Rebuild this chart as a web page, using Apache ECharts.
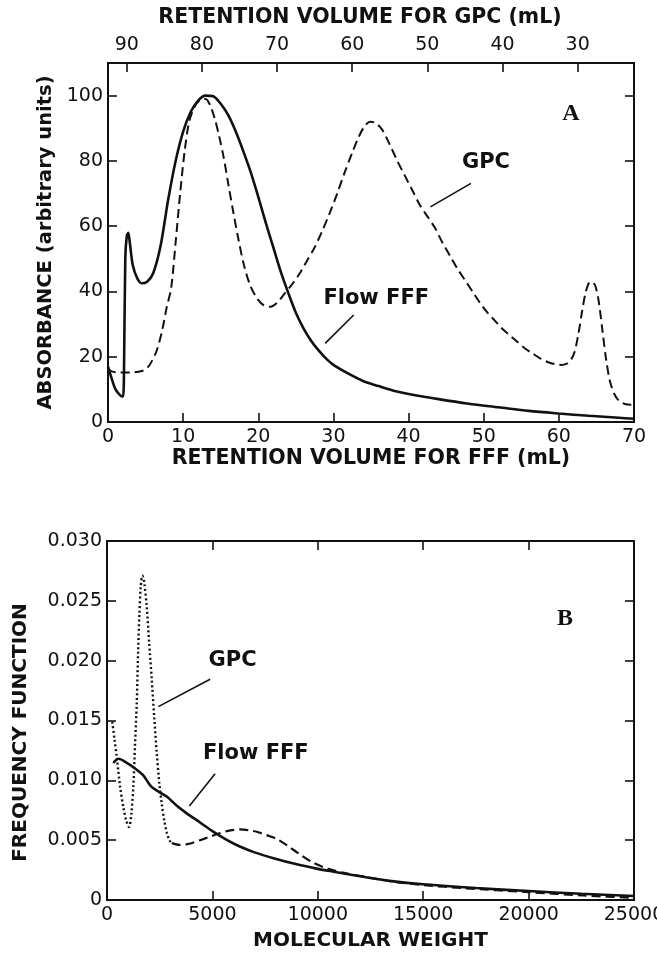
<!DOCTYPE html>
<html>
<head>
<meta charset="utf-8">
<title>Flow FFF vs GPC</title>
<script src="https://cdn.jsdelivr.net/npm/echarts@6/dist/echarts.min.js"></script>
<style>
  html, body { margin: 0; padding: 0; background: #fff; }
  #chart { width: 657px; height: 956px; }
</style>
</head>
<body>
<div id="chart"></div>
<script>
// ---- Panel A: absorbance vs retention volume (FFF axis bottom, GPC axis top) ----
const fffVolumeTicks = [0, 10, 20, 30, 40, 50, 60, 70];
const gpcVolumeTicks = [30, 40, 50, 60, 70, 80, 90];
const absorbanceTicks = [0, 20, 40, 60, 80, 100];

// Flow FFF fractogram: [FFF retention volume (mL), absorbance]
const fffTrace = [
  [0, 17], [0.4, 14], [1.0, 10], [1.7, 8], [2.0, 7.8], [2.15, 20], [2.3, 50], [2.5, 57],
  [2.7, 58], [2.9, 55], [3.3, 48], [3.9, 44], [4.5, 42.5], [5.2, 43], [6.0, 45.5], [7.0, 54],
  [8.0, 68], [9.0, 80], [10.0, 89], [11.0, 95], [12.0, 98.5], [13.0, 100], [14.0, 99.8],
  [15.0, 97.5], [16.0, 94], [17.0, 89], [18.0, 83], [19.0, 76.5], [20.0, 69], [21.0, 61],
  [22.0, 53.5], [23.0, 46], [24.0, 39.5], [25.0, 33.5], [26.0, 28.8], [27.0, 25], [28.0, 22],
  [29.0, 19.5], [30.0, 17.5], [32.0, 14.8], [34.0, 12.5], [36.0, 11], [38.0, 9.6], [40.0, 8.6],
  [44.0, 7], [48.0, 5.6], [52.0, 4.5], [56.0, 3.4], [60.0, 2.6], [64.0, 1.9], [68.0, 1.3], [70.0, 1.0]
];

// GPC chromatogram on the same volume scale: [FFF-scale volume (mL), absorbance]
const gpcTrace = [
  [0, 16.5], [0.5, 15.5], [1.5, 15.2], [3, 15.2], [4.5, 15.6], [5.2, 16.5], [5.8, 18.5],
  [6.5, 22], [7.2, 28], [7.8, 35], [8.4, 41], [9.0, 55], [9.6, 70], [10.2, 83], [10.8, 92],
  [11.5, 96.5], [12.3, 98.8], [13.0, 99], [13.6, 97], [14.2, 93], [14.8, 87.5], [15.4, 81],
  [16.0, 73], [16.7, 64], [17.4, 55.5], [18.1, 48], [18.9, 42], [19.8, 38], [20.7, 35.8],
  [21.6, 35.3], [22.5, 36.5], [23.5, 39.3], [24.5, 42.2], [25.5, 45.5], [26.5, 49.5],
  [27.5, 53.5], [28.5, 58.5], [29.5, 64], [30.5, 70], [31.5, 76.5], [32.5, 82.5], [33.3, 87],
  [34.1, 90.5], [34.9, 92], [35.7, 91.5], [36.5, 89.5], [37.5, 85], [38.5, 80], [39.5, 75.5],
  [40.5, 71], [41.5, 66.5], [42.5, 63], [43.5, 59.5], [44.5, 55], [45.5, 51], [46.5, 47],
  [47.5, 43.5], [48.5, 40], [49.5, 36.5], [50.5, 33.5], [51.5, 31], [52.5, 28.5], [53.5, 26.5],
  [54.5, 24.5], [55.5, 22.5], [56.5, 21], [57.5, 19.5], [58.5, 18.4], [59.5, 17.7], [60.3, 17.5],
  [61.0, 17.8], [61.6, 19], [62.1, 21.5], [62.6, 27], [63.1, 34], [63.6, 40], [64.2, 43],
  [64.8, 42], [65.3, 37], [65.8, 28], [66.3, 19], [66.8, 12.5], [67.4, 8.5], [68.0, 6.5],
  [68.8, 5.5], [69.5, 5.3], [70, 6]
];

// ---- Panel B: frequency function vs molecular weight ----
const mwTicks = [0, 5000, 10000, 15000, 20000, 25000];
const freqTicks = [0, 0.005, 0.010, 0.015, 0.020, 0.025, 0.030];

const fffDistribution = [
  [300, 0.01145], [550, 0.0118], [900, 0.0115], [1250, 0.0111], [1700, 0.01045], [2000, 0.0097],
  [2150, 0.0094], [2500, 0.0090], [2850, 0.00862], [3300, 0.0079], [3800, 0.00722], [4400, 0.0065],
  [5000, 0.00575], [5700, 0.0050], [6300, 0.00447], [7000, 0.00398], [7900, 0.00349], [9000, 0.00298],
  [10000, 0.0026], [10700, 0.00238], [12300, 0.0019], [13500, 0.00158], [15000, 0.00131],
  [17500, 0.001], [20000, 0.00075], [22500, 0.00052], [25000, 0.00033]
];

// GPC distribution, low-MW part (dotted)
const gpcDistributionLow = [
  [250, 0.0149], [350, 0.0135], [460, 0.012], [620, 0.0095], [780, 0.0077], [920, 0.0066],
  [1045, 0.0061], [1150, 0.0071], [1250, 0.0095], [1330, 0.013], [1410, 0.0164], [1480, 0.021],
  [1535, 0.0238], [1600, 0.0262], [1680, 0.0271], [1760, 0.0266], [1885, 0.0245], [2000, 0.0215],
  [2120, 0.0185], [2240, 0.0153], [2360, 0.0123], [2480, 0.0098], [2600, 0.008], [2720, 0.0066],
  [2840, 0.0056], [2960, 0.0050], [3070, 0.00475]
];

// GPC distribution, high-MW part (dashed)
const gpcDistributionHigh = [
  [3070, 0.00475], [3466, 0.0046], [3900, 0.0047], [4416, 0.005], [4900, 0.0053], [5366, 0.0056],
  [5850, 0.00582], [6316, 0.0059], [6800, 0.0058], [7108, 0.0057], [7600, 0.0054], [8058, 0.0051],
  [8600, 0.0045], [9164, 0.0038], [9800, 0.0031], [10500, 0.0026], [11300, 0.00225], [12330, 0.0019],
  [13500, 0.00155], [15000, 0.00125], [17000, 0.00098], [20000, 0.00066], [22600, 0.00038],
  [25000, 0.00018]
];

// Curve annotations (data coordinates) and their leader lines
const panelALabels = [
  { text: 'GPC', at: [50.3, 79.6] },
  { text: 'Flow FFF', at: [35.7, 37.7] }
];
const panelALeaders = [
  [[48.3, 73.1], [42.9, 65.9]],
  [[32.7, 32.8], [28.9, 24.1]]
];
const panelBLabels = [
  { text: 'GPC', at: [5959, 0.0200] },
  { text: 'Flow FFF', at: [7061, 0.0122] }
];
const panelBLeaders = [
  [[4891, 0.01845], [2436, 0.01616]],
  [[5128, 0.01054], [3908, 0.00786]]
];
const panelTags = [
  { text: 'A', at: [61.6, 94.3] },
  { text: 'B', at: [21724, 0.02354] }
];

const INK = '#111';
const tickFont = { color: INK, fontFamily: 'DejaVu Sans', fontSize: 19 };
const titleFont = { color: INK, fontFamily: 'DejaVu Sans', fontWeight: 'bold', fontSize: 20 };
const noteFont = { color: INK, fontFamily: 'DejaVu Sans', fontWeight: 'bold', fontSize: 21 };
const tagFont = { color: INK, fontFamily: 'Liberation Serif', fontWeight: 'bold', fontSize: 24 };

function innerTicks(values) {
  return { show: true, inside: true, length: 9, lineStyle: { color: INK, width: 1.6 }, customValues: values };
}

const hiddenLine = { show: false, onZero: false };

function labelPoints(list, font) {
  return {
    symbol: 'rect', symbolSize: [1, 1], silent: true, animation: false,
    itemStyle: { color: 'rgba(0,0,0,0)' },
    label: Object.assign({ show: true, position: 'inside', formatter: p => p.name }, font),
    data: list.map(d => ({ name: d.text, coord: d.at }))
  };
}

function leaderLines(list) {
  return {
    symbol: 'none', silent: true, animation: false,
    label: { show: false },
    lineStyle: { color: INK, width: 1.6, type: 'solid' },
    data: list.map(seg => [{ coord: seg[0] }, { coord: seg[1] }])
  };
}

const option = {
  animation: false,
  backgroundColor: '#fff',
  grid: [
    { left: 108, right: 23, top: 63, height: 359, show: true, borderColor: INK, borderWidth: 2,
      backgroundColor: 'transparent', outerBoundsMode: 'none', containLabel: false },
    { left: 107, right: 23, top: 541, height: 359, show: true, borderColor: INK, borderWidth: 2,
      backgroundColor: 'transparent', outerBoundsMode: 'none', containLabel: false }
  ],
  xAxis: [
    {
      gridIndex: 0, type: 'value', position: 'bottom', min: 0, max: 70, interval: 10,
      axisLine: hiddenLine, splitLine: { show: false },
      axisTick: innerTicks(fffVolumeTicks),
      axisLabel: Object.assign({ margin: 6, customValues: fffVolumeTicks }, tickFont),
      name: 'RETENTION VOLUME FOR FFF (mL)', nameLocation: 'middle', nameGap: 23,
      nameTextStyle: Object.assign({}, titleFont, { fontSize: 20.5 })
    },
    {
      gridIndex: 0, type: 'value', position: 'top', inverse: true, min: 22.5, max: 92.5,
      axisLine: hiddenLine, splitLine: { show: false },
      axisTick: innerTicks(gpcVolumeTicks),
      axisLabel: Object.assign({ margin: 8, customValues: gpcVolumeTicks }, tickFont),
      name: 'RETENTION VOLUME FOR GPC (mL)', nameLocation: 'middle', nameGap: 35,
      nameTextStyle: Object.assign({}, titleFont, { fontSize: 20.5, padding: [0, 22, 0, 0] })
    },
    {
      gridIndex: 1, type: 'value', position: 'bottom', min: 0, max: 25000, interval: 5000,
      axisLine: hiddenLine, splitLine: { show: false },
      axisTick: innerTicks(mwTicks),
      axisLabel: Object.assign({ margin: 6, customValues: mwTicks, formatter: v => String(v) }, tickFont),
      name: 'MOLECULAR WEIGHT', nameLocation: 'middle', nameGap: 31,
      nameTextStyle: titleFont
    },
    {
      gridIndex: 1, type: 'value', position: 'top', min: 0, max: 25000, interval: 5000,
      axisLine: hiddenLine, splitLine: { show: false },
      axisTick: innerTicks(mwTicks.slice(1, -1)),
      axisLabel: { show: false }
    }
  ],
  yAxis: [
    {
      gridIndex: 0, type: 'value', position: 'left', min: 0, max: 110, interval: 20,
      axisLine: hiddenLine, splitLine: { show: false },
      axisTick: innerTicks(absorbanceTicks),
      axisLabel: Object.assign({ margin: 5, customValues: absorbanceTicks }, tickFont),
      name: 'ABSORBANCE (arbitrary units)', nameLocation: 'middle', nameGap: 44,
      nameTextStyle: Object.assign({}, titleFont, { fontSize: 19.5 })
    },
    {
      gridIndex: 0, type: 'value', position: 'right', min: 0, max: 110, interval: 20,
      axisLine: hiddenLine, splitLine: { show: false },
      axisTick: innerTicks(absorbanceTicks.slice(1)),
      axisLabel: { show: false }
    },
    {
      gridIndex: 1, type: 'value', position: 'left', min: 0, max: 0.030, interval: 0.005,
      axisLine: hiddenLine, splitLine: { show: false },
      axisTick: innerTicks(freqTicks.slice(0, -1)),
      axisLabel: Object.assign({
        margin: 5, customValues: freqTicks,
        formatter: v => (v === 0 ? '0' : v.toFixed(3))
      }, tickFont),
      name: 'FREQUENCY FUNCTION', nameLocation: 'middle', nameGap: 76,
      nameTextStyle: Object.assign({}, titleFont, { padding: [0, 24, 0, 0] })
    },
    {
      gridIndex: 1, type: 'value', position: 'right', min: 0, max: 0.030, interval: 0.005,
      axisLine: hiddenLine, splitLine: { show: false },
      axisTick: innerTicks(freqTicks.slice(1, -1)),
      axisLabel: { show: false }
    }
  ],
  series: [
    {
      name: 'Flow FFF', type: 'line', xAxisIndex: 0, yAxisIndex: 0, data: fffTrace,
      showSymbol: false, smooth: 0.3, lineStyle: { color: INK, width: 2.6 },
      markLine: leaderLines(panelALeaders),
      markPoint: labelPoints(panelALabels, noteFont)
    },
    {
      name: 'GPC', type: 'line', xAxisIndex: 0, yAxisIndex: 0, data: gpcTrace,
      showSymbol: false, smooth: 0.3, lineStyle: { color: INK, width: 2, type: [9, 5] },
      markPoint: labelPoints([panelTags[0]], tagFont)
    },
    {
      name: 'Flow FFF', type: 'line', xAxisIndex: 2, yAxisIndex: 2, data: fffDistribution,
      showSymbol: false, smooth: 0.3, lineStyle: { color: INK, width: 2.6 },
      markLine: leaderLines(panelBLeaders),
      markPoint: labelPoints(panelBLabels, noteFont)
    },
    {
      name: 'GPC', type: 'line', xAxisIndex: 2, yAxisIndex: 2, data: gpcDistributionLow,
      showSymbol: false, smooth: 0.3, lineStyle: { color: INK, width: 2.4, type: [2, 2.6] },
      markPoint: labelPoints([panelTags[1]], tagFont)
    },
    {
      name: 'GPC', type: 'line', xAxisIndex: 2, yAxisIndex: 2, data: gpcDistributionHigh,
      showSymbol: false, smooth: 0.3, lineStyle: { color: INK, width: 2.2, type: [9, 5] }
    }
  ]
};

const chart = echarts.init(document.getElementById('chart'), null, { renderer: 'canvas' });
chart.setOption(option);
</script>
</body>
</html>
